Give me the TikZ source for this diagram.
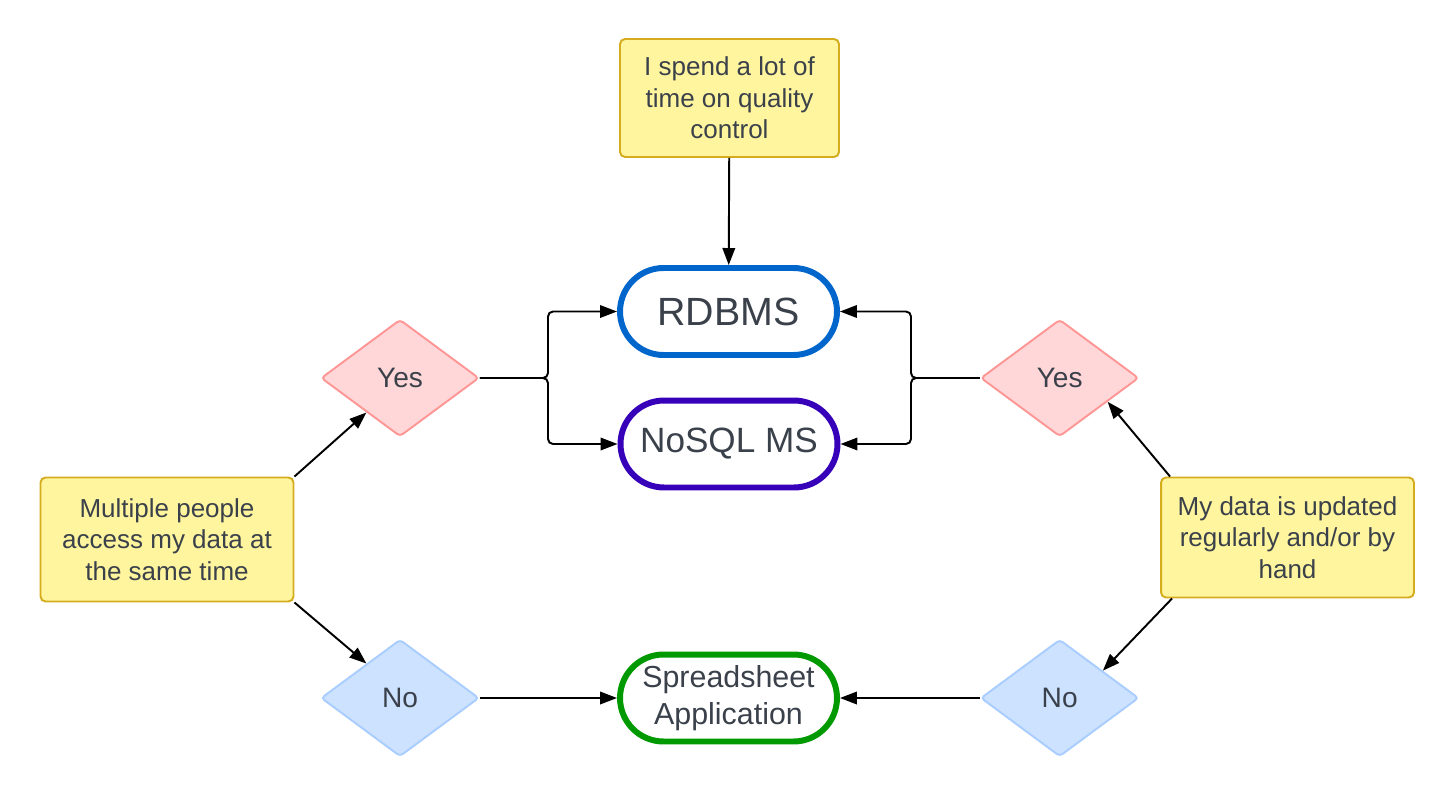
\documentclass[tikz,border=0pt]{standalone}
\usepackage{fontspec}
\setmainfont{Liberation Sans}
\usepackage{tikz}
\usetikzlibrary{arrows.meta,shapes.geometric,shapes.misc,calc}
\definecolor{txt}{HTML}{3A414A}
\definecolor{notefill}{HTML}{FFF59E}
\definecolor{noteline}{HTML}{D4AC1E}
\definecolor{yesfill}{HTML}{FFD7D8}
\definecolor{yesline}{HTML}{FF9696}
\definecolor{nofill}{HTML}{CDE2FE}
\definecolor{noline}{HTML}{A9CDFF}
\definecolor{rdbmsblue}{HTML}{0066CC}
\definecolor{nosqlpurple}{HTML}{3700B9}
\definecolor{sheetgreen}{HTML}{009A00}
\tikzset{
  note/.style={draw=noteline, fill=notefill, line width=1.1pt, rounded corners=0.1cm, align=center, text=txt, inner sep=0pt, font=\fontsize{14.8}{18}\selectfont},
  choice/.style={diamond, line width=1.1pt, rounded corners=0.07cm, minimum width=3.16cm, minimum height=2.34cm, inner sep=0pt, text=txt, font=\fontsize{16}{19}\selectfont},
  yesbox/.style={choice, draw=yesline, fill=yesfill},
  nobox/.style={choice, draw=noline, fill=nofill},
  target/.style={rounded rectangle, line width=3.4pt, minimum width=4.34cm, minimum height=1.74cm, align=center, text=txt, inner sep=0pt},
  conn/.style={line width=1.1pt, -{Triangle[length=0.34cm,width=0.25cm]}, rounded corners=0.1cm}
}
\begin{document}
\begin{tikzpicture}[x=0.02cm,y=-0.02cm]
\useasboundingbox (0,0) rectangle (1455,798);
\node[note, minimum width=4.38cm, minimum height=2.36cm] (qual) at (729.5,98) {I spend a lot of\\time on quality\\control};
\node[note, minimum width=5.06cm, minimum height=2.48cm] (multi) at (167,539.5) {Multiple people\\access my data at\\the same time};
\node[note, minimum width=5.06cm, minimum height=2.4cm] (upd) at (1287.5,537.5) {My data is updated\\regularly and/or by\\hand};
\node[target, draw=rdbmsblue, font=\fontsize{22.4}{26}\selectfont] (rdbms) at (728.5,311.5) {RDBMS};
\node[target, draw=nosqlpurple, font=\fontsize{20}{24}\selectfont] (nosql) at (729,444) {NoSQL MS};
\node[target, draw=sheetgreen, font=\fontsize{17.3}{21}\selectfont] (sheet) at (728.5,698) {Spreadsheet\\Application};
\node[yesbox] (yesL) at (400,378) {Yes};
\node[nobox] (noL) at (400,698) {No};
\node[yesbox] (yesR) at (1059.7,378) {Yes};
\node[nobox] (noR) at (1059.7,698) {No};
\coordinate (jL) at (548,378);
\coordinate (jR) at (911,378);
\draw[conn] (qual) -- (rdbms);
\draw[conn] (multi.north east) -- ($(yesL.west)!0.58!(yesL.south)$);
\draw[conn] (multi.south east) -- ($(noL.west)!0.58!(noL.north)$);
\draw[conn] ([xshift=0.2cm]upd.north west) -- ($(yesR.east)!0.4!(yesR.south)$);
\draw[conn] ([xshift=0.24cm]upd.south west) -- ($(noR.east)!0.46!(noR.north)$);
\draw[conn] (yesL.east) -- (jL) |- (rdbms.west);
\draw[conn] (yesL.east) -- (jL) |- (nosql.west);
\draw[conn] (yesR.west) -- (jR) |- (rdbms.east);
\draw[conn] (yesR.west) -- (jR) |- (nosql.east);
\draw[conn] (noL) -- (sheet);
\draw[conn] (noR) -- (sheet);
\end{tikzpicture}
\end{document}
